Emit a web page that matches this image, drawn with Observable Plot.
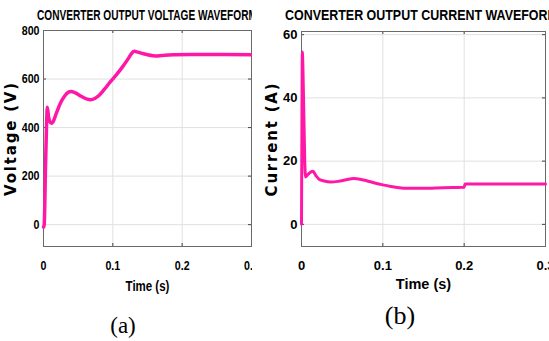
<!DOCTYPE html>
<html>
<head>
<meta charset="utf-8">
<script src="https://cdn.jsdelivr.net/npm/d3@7"></script>
<script src="https://cdn.jsdelivr.net/npm/@observablehq/plot@0.6"></script>
<style>
  body { margin: 0; background: #fff; }
  #fig { position: relative; width: 549px; height: 341px; overflow: hidden; background: #fff; }
  .panel { position: absolute; top: 0; height: 300px; overflow: hidden; }
  .title { position: absolute; top: 8px; white-space: nowrap; font-family: 'Liberation Sans', Arial, sans-serif; font-weight: bold; font-size: 14px; line-height: 14px; transform-origin: left center; color: #000; }
  .cap { position: absolute; width: 100px; text-align: center; font-family: 'Liberation Serif', 'Times New Roman', serif; color: #000; }
</style>
</head>
<body>
<div id="fig">
  <div class="panel" id="left" style="left:0;width:252px;"></div>
  <div class="panel" id="right" style="left:252px;width:297px;"></div>
  <div class="cap" style="left:73px;top:314px;font-size:23px;line-height:23px;">(a)</div>
  <div class="cap" style="left:350px;top:303px;font-size:26px;line-height:26px;">(b)</div>
</div>
<script>
// ---- data ----
const voltageTitle = "CONVERTER OUTPUT VOLTAGE WAVEFORM";
const currentTitle = "CONVERTER OUTPUT CURRENT WAVEFORM";
const voltageLabel = "Voltage (V)";
const currentLabel = "Current (A)";
const timeLabel = "Time (s)";

const timeTicks = [0, 0.1, 0.2, 0.3];
const voltageTicks = [0, 200, 400, 600, 800];
const currentTicks = [0, 20, 40, 60];

const voltageTime = [0, 0.001, 0.003, 0.0045, 0.0055, 0.007, 0.009, 0.0115, 0.014, 0.018, 0.024, 0.03, 0.036, 0.04, 0.046, 0.055, 0.063, 0.068, 0.074, 0.08, 0.088, 0.096, 0.105, 0.114, 0.122, 0.127, 0.131, 0.136, 0.142, 0.15, 0.158, 0.165, 0.175, 0.19, 0.21, 0.25, 0.3];
const voltageValues = [-10, 0, 250, 420, 484, 450, 425, 418, 425, 455, 498, 528, 546, 549, 543, 528, 517, 515, 520, 532, 558, 587, 617, 650, 683, 705, 714, 711, 706, 700, 696, 695, 698, 700, 701, 701, 700];

const currentTime = [0, 0.0005, 0.001, 0.0025, 0.004, 0.005, 0.008, 0.011, 0.014, 0.018, 0.022, 0.028, 0.036, 0.045, 0.055, 0.064, 0.072, 0.08, 0.09, 0.1, 0.11, 0.12, 0.13, 0.15, 0.175, 0.2, 0.201, 0.25, 0.3];
const currentValues = [0, 30, 54.5, 40, 20, 15, 15.8, 16.5, 16.8, 15.3, 14.2, 13.7, 13.4, 13.6, 14.1, 14.5, 14.3, 13.8, 13.1, 12.5, 12.0, 11.6, 11.4, 11.4, 11.6, 11.7, 12.8, 12.8, 12.8];

// ---- style ----
const lineColor = "#ff18a6";
const gridColor = "#e0e0e0";
const frameColor = "#6a6a6a";
const font = "'Liberation Sans', Arial, sans-serif";

function panel({width, height, mt, mb, ml, mr, yDomain, yTicks, t, v, ylabel, ylabelDx, xlabelDy, tickFont, xlabelFont, lw}) {
  const data = t.map((d, i) => ({t: d, v: v[i]}));
  const fh = height - mt - mb;
  const fw = width - ml - mr;
  const tick = 3;
  const svg = Plot.plot({
    width, height,
    marginTop: mt, marginBottom: mb, marginLeft: ml, marginRight: mr,
    style: {fontFamily: font, fontWeight: "bold", background: "#fff"},
    x: {domain: [0, 0.3]},
    y: {domain: yDomain},
    marks: [
      Plot.gridX(timeTicks, {stroke: gridColor, strokeOpacity: 1}),
      Plot.gridY(yTicks, {stroke: gridColor, strokeOpacity: 1}),
      Plot.tickX(timeTicks, {x: d => d, insetTop: fh - tick, stroke: "#444"}),
      Plot.tickX(timeTicks, {x: d => d, insetBottom: fh - tick, stroke: "#444"}),
      Plot.tickY(yTicks, {y: d => d, insetRight: fw - tick, stroke: "#444"}),
      Plot.tickY(yTicks, {y: d => d, insetLeft: fw - tick, stroke: "#444"}),
      Plot.frame({stroke: frameColor, strokeOpacity: 1}),
      Plot.axisX(timeTicks, {label: null, tickSize: 0, tickPadding: 14.4, tickFormat: d => String(d), fontSize: tickFont, fontWeight: "bold", fontFamily: font, fill: "#000"}),
      Plot.axisY(yTicks, {label: null, tickSize: 0, tickPadding: 4, tickFormat: d => String(d), fontSize: tickFont, fontWeight: "bold", fontFamily: font, fill: "#000"}),
      Plot.text([ylabel], {text: d => d, frameAnchor: "left", textAnchor: "middle", rotate: -90, dx: ylabelDx, fontSize: 15, fontWeight: "bold", fontFamily: "DejaVu Sans", fill: "#000"}),
      Plot.text([timeLabel], {text: d => d, frameAnchor: "bottom", textAnchor: "middle", dy: xlabelDy, fontSize: xlabelFont, fontWeight: "bold", fontFamily: font, fill: "#000"}),
      Plot.line(data, {x: "t", y: "v", stroke: lineColor, strokeWidth: lw, curve: "monotone-x"})
    ]
  });
  d3.select(svg).selectAll("text").filter(function() { return this.textContent === ylabel; }).style("letter-spacing", "1.8px");
  return svg;
}

// squeeze horizontal texts of a panel (the reference figure is horizontally compressed)
function squeeze(svg, factor, skip) {
  d3.select(svg).selectAll("text").each(function() {
    if (this.textContent === skip) return;
    const len = this.getComputedTextLength();
    if (len > 0) {
      this.setAttribute("textLength", (len * factor).toFixed(2));
      this.setAttribute("lengthAdjust", "spacingAndGlyphs");
    }
  });
}

const left = document.getElementById("left");
const leftSvg = panel({
  width: 252, height: 300, mt: 30, mb: 54, ml: 43, mr: 1,
  yDomain: [-90, 800], yTicks: voltageTicks, t: voltageTime, v: voltageValues,
  ylabel: voltageLabel, ylabelDx: -32.5, xlabelDy: 44,
  tickFont: 13, xlabelFont: 14, lw: 3.5
});
left.appendChild(leftSvg);
squeeze(leftSvg, 0.82, voltageLabel);
const lt = document.createElement("div");
lt.className = "title"; lt.textContent = voltageTitle;
lt.style.left = "37px"; lt.style.transform = "scaleX(0.723)";
left.appendChild(lt);

const right = document.getElementById("right");
const rightSvg = panel({
  width: 297, height: 300, mt: 31, mb: 54, ml: 49, mr: 4,
  yDomain: [-7, 61], yTicks: currentTicks, t: currentTime, v: currentValues,
  ylabel: currentLabel, ylabelDx: -29.5, xlabelDy: 42,
  tickFont: 13, xlabelFont: 14.5, lw: 3
});
right.appendChild(rightSvg);
const rt = document.createElement("div");
rt.className = "title"; rt.textContent = currentTitle;
rt.style.left = "33px"; rt.style.transform = "scaleX(0.889)";
right.appendChild(rt);
</script>
</body>
</html>
